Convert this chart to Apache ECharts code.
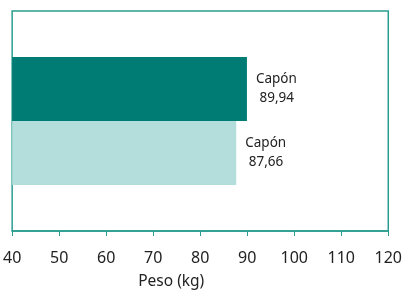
<!DOCTYPE html>
<html><head><meta charset="utf-8">
<script src="https://cdn.jsdelivr.net/npm/echarts@6/dist/echarts.min.js"></script>
<style>html,body{margin:0;padding:0;background:#fff}#c{width:405px;height:295px}</style>
</head><body><div id="c"></div>
<script>
const categories = ['Capón'];
const seriesNames = ['Capón A', 'Capón B'];
const valuesDark = [89.94];
const valuesLight = [87.66];
const xTicks = [40, 120, 10];
const axisTitle = 'Peso (kg)';

const chart = echarts.init(document.getElementById('c'), null, {renderer: 'canvas'});
const fmt = p => 'Capón\n ' + p.value.toFixed(2).replace('.', ',');
const labelStyle = {show: true, position: 'right', distance: 9, formatter: fmt, color: '#222', fontSize: 13.5, lineHeight: 19, fontFamily: 'Noto Sans'};
chart.setOption({
  animation: false,
  grid: {left: 11, right: 16, top: 11, bottom: 58, show: true, borderColor: '#2a9d90', borderWidth: 1.5},
  xAxis: {type: 'value', min: xTicks[0], max: xTicks[1], interval: xTicks[2],
    axisLine: {show: true, lineStyle: {color: '#2a9d90', width: 1.5}},
    axisTick: {show: true, length: 5, lineStyle: {color: '#2a9d90'}},
    splitLine: {show: false},
    axisLabel: {color: '#222', fontSize: 16, fontFamily: 'Noto Sans', margin: 19},
    name: axisTitle, nameLocation: 'middle', nameGap: 43,
    nameTextStyle: {color: '#222', fontSize: 15.5, fontFamily: 'Noto Sans', padding: [0, 58, 0, 0]}},
  yAxis: {type: 'category', data: categories, axisLine: {show: false}, axisTick: {show: false}, axisLabel: {show: false}},
  series: [
    {name: seriesNames[0], type: 'bar', data: valuesDark, barWidth: 64, barGap: '0%', itemStyle: {color: '#007c74'}, label: labelStyle},
    {name: seriesNames[1], type: 'bar', data: valuesLight, barWidth: 64, barGap: '0%', itemStyle: {color: '#b3dedc'}, label: labelStyle}
  ]
});
</script></body></html>
